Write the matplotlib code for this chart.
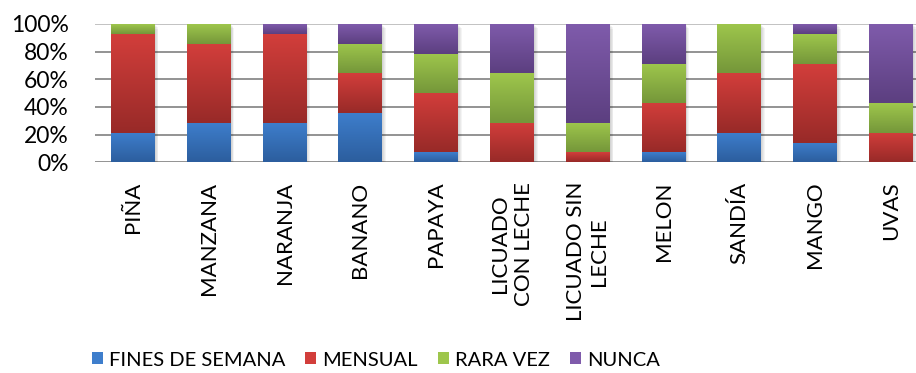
import numpy as np
import matplotlib
matplotlib.use("Agg")
import matplotlib.pyplot as plt
from matplotlib.colors import to_rgb
from matplotlib.patches import Patch
from matplotlib.transforms import offset_copy

plt.rcParams["font.family"] = ["Lato", "DejaVu Sans"]

categories = ["PIÑA", "MANZANA", "NARANJA", "BANANO", "PAPAYA",
              "LICUADO\nCON LECHE", "LICUADO SIN\nLECHE", "MELON",
              "SANDÍA", "MANGO", "UVAS"]
series = ["FINES DE SEMANA", "MENSUAL", "RARA VEZ", "NUNCA"]

# percentage of answers per fruit
fines = [21.4, 28.6, 28.6, 35.7, 7.1, 0.0, 0.0, 7.1, 21.4, 14.3, 0.0]
mensual = [71.4, 57.1, 64.3, 28.6, 42.9, 28.6, 7.1, 35.7, 42.9, 57.1, 21.4]
rara_vez = [7.1, 14.3, 0.0, 21.4, 28.6, 35.7, 21.4, 28.6, 35.7, 21.4, 21.4]
nunca = [0.0, 0.0, 7.1, 14.3, 21.4, 35.7, 71.4, 28.6, 0.0, 7.1, 57.1]

# (top, bottom) colours of each gradient
top_colors = ["#3E7ECC", "#D23E3B", "#9EC64C", "#7F5BAB"]
bottom_colors = ["#2C5E9E", "#982A28", "#75973A", "#5C3F80"]

fig = plt.figure(figsize=(9.16, 3.73), dpi=100)
ax = fig.add_axes([95 / 916, 1 - 162.3 / 373, 834 / 916, 138.3 / 373])

x = np.arange(len(categories))
width = 0.58
data = [fines, mensual, rara_vez, nunca]
totals = np.sum(data, axis=0)

# soft drop shadow behind each column
for k in range(1, 5):
    tr = offset_copy(ax.transData, fig=fig, x=k * 0.9, y=-k * 1.1, units="dots")
    ax.bar(x, totals, width, color="black", alpha=0.045, zorder=1,
           transform=tr, linewidth=0)

bottom = np.zeros(len(categories))
for vals, c_top, c_bot in zip(data, top_colors, bottom_colors):
    bars = ax.bar(x, vals, width, bottom=bottom, color="none",
                  linewidth=0, zorder=2)
    t = np.array(to_rgb(c_top))
    b = np.array(to_rgb(c_bot))
    grad = np.linspace(0, 1, 64)[:, None, None]
    img = b + (t - b) * grad
    img = np.repeat(img, 2, axis=1)
    for p in bars:
        if p.get_height() <= 0:
            continue
        x0, y0 = p.get_x(), p.get_y()
        im = ax.imshow(img, extent=[x0, x0 + p.get_width(), y0, y0 + p.get_height()],
                       origin="lower", aspect="auto", interpolation="bilinear",
                       zorder=2)
        im.set_clip_path(p)
    bottom += np.array(vals)

ax.set_xlim(-0.5, len(categories) - 0.5)
ax.set_ylim(0, 100)
ax.set_yticks(range(0, 101, 20))
ax.set_yticklabels([f"{v}%" for v in range(0, 101, 20)])
ax.yaxis.grid(True, color="#8A8A8A", linewidth=1.3)
ax.get_ygridlines()[-1].set_color("#BDBDBD")
ax.set_axisbelow(True)
for s in ax.spines.values():
    s.set_visible(False)

ax.set_xticks(x)
ax.set_xticklabels(categories, rotation=90, va="top", ha="center",
                   multialignment="center")
ax.tick_params(axis="x", length=0, pad=14, labelsize=16)
ax.tick_params(axis="y", length=0, pad=19, labelsize=16.5)

handles = [Patch(facecolor=c, edgecolor="none") for c in top_colors]
fig.legend(handles, series, loc="center", bbox_to_anchor=(376 / 916, 1 - 360 / 373),
           ncol=4, frameon=False, fontsize=14.5, handlelength=0.55,
           handleheight=0.55, handletextpad=0.3, columnspacing=1.0,
           borderpad=0, borderaxespad=0)

fig.savefig("out.png", dpi=100)
